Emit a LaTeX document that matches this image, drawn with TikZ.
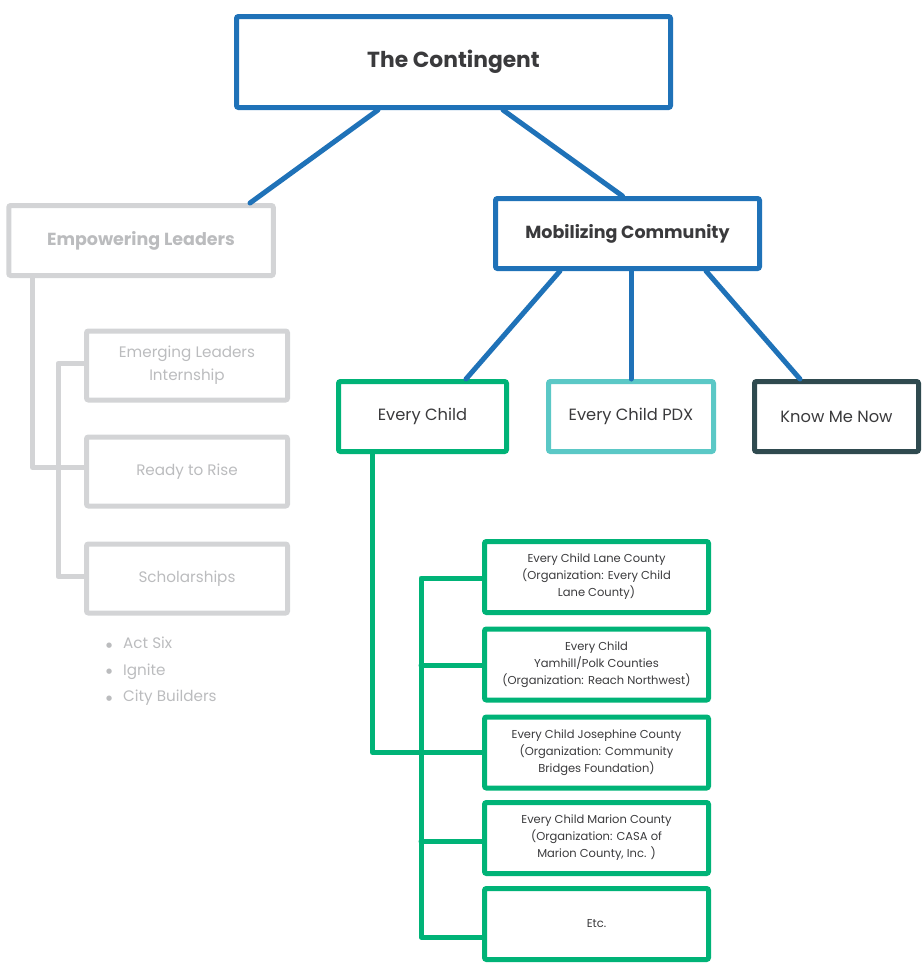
\documentclass[tikz,border=0pt]{standalone}
\usepackage{fontspec}
\setmainfont{Poppins}
\newfontfamily\dotfont{DejaVu Sans}
\definecolor{topblue}{HTML}{1F72B8}
\definecolor{lightgray}{HTML}{D3D4D6}
\definecolor{graytext}{HTML}{BBBCBE}
\definecolor{childgreen}{HTML}{00B377}
\definecolor{pdxteal}{HTML}{5BC8C6}
\definecolor{kmndark}{HTML}{2F4A4F}
\definecolor{ink}{HTML}{3A3A3C}
\newcommand{\bulitem}[1]{\makebox[17pt][l]{\raisebox{1.5pt}{\dotfont\fontsize{7}{7}\selectfont ●}}#1}

\begin{document}
\begin{tikzpicture}[x=1pt,y=-1pt,
box/.style={draw, line width=5pt, rounded corners=2pt, align=center,
text=ink, inner sep=0pt, minimum width=166pt, minimum height=70pt},
mainbox/.style={box, draw=topblue, font=\bfseries\fontsize{17.5}{20}\selectfont},
sidebox/.style={box, draw=lightgray, text=graytext, minimum width=201pt,
minimum height=69pt, font=\fontsize{15.2}{23}\selectfont},
leafbox/.style={box, draw=childgreen, minimum width=224pt, minimum height=71pt,
font=\fontsize{11.5}{17}\selectfont},
link/.style={line width=5pt, line cap=round, line join=round}
]
\useasboundingbox (0,0) rectangle (923,972);

% top level
\node[mainbox, minimum width=434pt, minimum height=91pt,
font=\bfseries\fontsize{21.8}{24}\selectfont] (contingent) at (453.5,62) {The Contingent};
\node[mainbox, draw=lightgray, text=graytext, minimum width=264.5pt] (leaders) at (141,240.5) {Empowering Leaders};
\node[mainbox, minimum width=264pt] (mobilizing) at (627.5,233.5) {Mobilizing Community};

% mobilizing community branches
\node[box, draw=childgreen, minimum width=168pt, font=\fontsize{16.3}{18}\selectfont] (everychild) at (422.5,416.5) {Every Child};
\node[box, draw=pdxteal, minimum width=165pt, font=\fontsize{16.3}{18}\selectfont] (pdx) at (631,416.5) {Every Child PDX};
\node[box, draw=kmndark, minimum width=164pt, font=\fontsize{16.3}{18}\selectfont] (knowme) at (836.5,416.5) {Know Me Now};

% empowering leaders branches
\node[sidebox] (emerging) at (187,365.5) {Emerging Leaders\\Internship};
\node[sidebox] (ready) at (187,471.5) {Ready to Rise};
\node[sidebox] (scholar) at (187,578.5) {Scholarships};
\node[anchor=north west, align=left, text=graytext, inner sep=0pt,
font=\fontsize{15.2}{26.5}\selectfont] (programs) at (106,637) {\bulitem{Act Six}\\\bulitem{Ignite}\\\bulitem{City Builders}};

% every child counties
\node[leafbox] (lane) at (596.5,577) {Every Child Lane County\\(Organization: Every Child\\Lane County)};
\node[leafbox] (yamhill) at (596.5,664.5) {Every Child\\Yamhill/Polk Counties\\(Organization: Reach Northwest)};
\node[leafbox] (josephine) at (596.5,752.5) {Every Child Josephine County\\(Organization: Community\\Bridges Foundation)};
\node[leafbox] (marion) at (596.5,838) {Every Child Marion County\\(Organization: CASA of\\Marion County, Inc. )};
\node[leafbox] (etc) at (596.5,924) {Etc.};

% connectors
\draw[link, topblue] ([xshift=-75.5pt]contingent.south) -- ([xshift=109pt]leaders.north);
\draw[link, topblue] ([xshift=49.5pt]contingent.south) -- ([xshift=-5pt]mobilizing.north);
\draw[link, topblue] ([xshift=-67.5pt]mobilizing.south) -- ([xshift=43.5pt]everychild.north);
\draw[link, topblue] ([xshift=3.5pt]mobilizing.south) -- (pdx.north);
\draw[link, topblue] ([xshift=78.5pt]mobilizing.south) -- ([xshift=-36.5pt]knowme.north);

\draw[link, lightgray] ([xshift=-108.5pt]leaders.south) |- ([yshift=4pt]ready.west);
\draw[link, lightgray] ([yshift=2pt]emerging.west) -- ++(-26pt,0) |- ([yshift=2pt]scholar.west);

\draw[link, childgreen] ([xshift=-50pt]everychild.south) |- (josephine.west);
\draw[link, childgreen] ([yshift=-1pt]lane.west) -- ++(-61pt,0) |- ([yshift=-13pt]etc.west);
\draw[link, childgreen] ([yshift=-0.5pt]yamhill.west) -- ++(-61pt,0);
\draw[link, childgreen] ([yshift=-3pt]marion.west) -- ++(-61pt,0);
\end{tikzpicture}
\end{document}
